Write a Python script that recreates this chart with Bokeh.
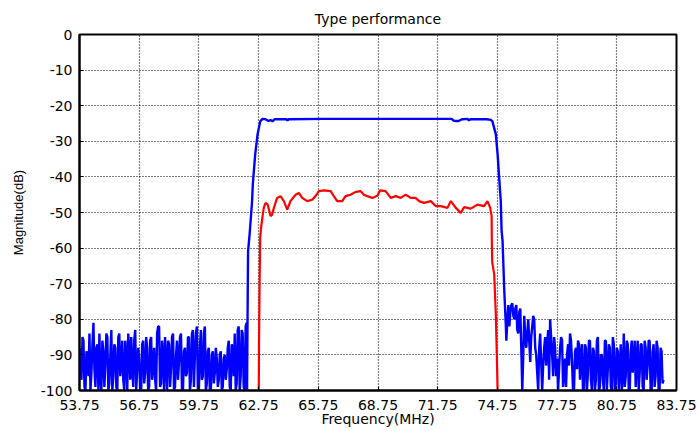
import numpy as np
from bokeh.plotting import figure
from bokeh.models import Range1d, FixedTicker
from bokeh.embed import file_html
from bokeh.resources import INLINE

# ---------------- data ----------------
x_ticks = [53.75, 56.75, 59.75, 62.75, 65.75, 68.75, 71.75, 74.75, 77.75, 80.75, 83.75]
x_tick_labels = ["53.75", "56.75", "59.75", "62.75", "65.75", "68.75", "71.75",
                 "74.75", "77.75", "80.75", "83.75"]
y_ticks = [0, -10, -20, -30, -40, -50, -60, -70, -80, -90, -100]
y_tick_labels = ["0", "-10", "-20", "-30", "-40", "-50", "-60", "-70", "-80", "-90", "-100"]

# blue trace: lower noise floor (sampled every 0.05 MHz from 53.75)
blue_noise_lo_start = 53.75
blue_noise_lo_db = [
    -88, -93, -97, -85, -86, -99, -100, -89, -90, -96,
    -84, -100, -95, -87, -81, -94, -99, -88, -87, -100,
    -84, -97, -100, -86, -89, -99, -93, -84, -85, -100,
    -98, -90, -83, -100, -96, -87, -88, -99, -100, -85,
    -84, -96, -92, -86, -97, -100, -86, -90, -100, -84,
    -89, -97, -85, -93, -99, -86, -83, -100, -94, -88,
    -91, -100, -100, -87, -86, -98, -95, -85, -88, -100,
    -99, -86, -85, -97, -93, -88, -97, -100, -84, -82,
    -82, -99, -98, -86, -90, -100, -85, -92, -100, -86,
    -87, -99, -94, -85, -84, -100, -99, -90, -86, -97,
    -92, -85, -84, -100, -100, -89, -88, -96, -95, -85,
    -85, -100, -97, -84, -83, -99, -90, -84, -82, -100,
    -100, -88, -83, -97, -96, -84, -82, -100, -98, -89,
    -88, -100, -100, -90, -89, -98, -95, -88, -91, -99,
    -97, -90, -89, -100, -99, -91, -90, -97, -94, -88,
    -86, -99, -100, -87, -88, -96, -84, -100, -98, -83,
    -82, -100, -96, -83, -84, -99, -100, -82, -81,
]
blue_edge_lo_f = [62.17, 62.19, 62.22, 62.30, 62.42, 62.46, 62.58, 62.70, 62.83, 62.95]
blue_edge_lo_db = [-100, -83, -61, -56, -47, -42, -33.6, -28, -24.4, -23.7]
blue_pass_f = [63.10, 63.25, 63.35, 63.45, 63.55, 64.15, 64.20, 64.25, 66.0, 68.0, 70.0,
               72.45, 72.55, 72.65, 72.80, 72.90, 73.00, 73.25, 73.32, 73.40, 74.20, 74.42]
blue_pass_db = [-23.8, -24.3, -24.0, -24.4, -23.8, -23.8, -24.2, -23.8, -23.7, -23.7, -23.7,
                -23.7, -24.2, -24.3, -24.3, -24.0, -23.8, -23.7, -24.1, -23.8, -23.8, -24.0]
blue_edge_hi_f = [74.50, 74.67, 74.76, 74.84, 74.92, 74.96, 75.01, 75.09, 75.17]
blue_edge_hi_db = [-24.4, -28, -33.6, -40.3, -46.8, -55, -58, -71.2, -81.3]
# blue trace: upper noise floor (sampled every 0.05 MHz from 75.2)
blue_noise_hi_start = 75.2
blue_noise_hi_db = [
    -86, -80, -76, -82, -78, -76, -75.5, -79, -80, -77,
    -76, -83, -84, -78, -77, -88, -100, -90, -79, -85,
    -88, -84, -80, -86, -92, -85, -82, -79, -80, -88,
    -90, -95, -100, -88, -84, -92, -100, -93, -88, -85,
    -93, -87, -83, -97, -80, -85, -90, -96, -85, -88,
    -96, -91, -100, -94, -88, -85, -86, -99, -95, -91,
    -99, -90, -87, -93, -84, -86, -92, -100, -100, -89,
    -88, -94, -86, -87, -97, -90, -87, -100, -100, -87,
    -88, -100, -95, -86, -86, -97, -100, -88, -89, -100,
    -97, -86, -85, -100, -99, -90, -90, -97, -100, -86,
    -86, -100, -94, -87, -88, -99, -100, -85, -87, -100,
    -98, -88, -89, -100, -93, -87, -100, -96, -84, -99,
    -96, -86, -87, -100, -100, -89, -86, -95, -91, -86,
    -99, -91, -86, -100, -95, -87, -87, -99, -100, -86,
    -88, -97, -93, -86, -86, -100, -100, -89, -87, -99,
    -96, -86, -88, -100, -100, -88, -89, -98, -97,
]

# red trace
red_f = [62.76, 62.77, 62.80, 62.83, 62.88, 62.95, 63.01, 63.10, 63.21, 63.35, 63.43,
         63.52, 63.68, 63.85, 64.02, 64.19, 64.35, 64.61, 64.77, 64.94, 65.19, 65.44,
         65.61, 65.78, 66.03, 66.37, 66.53, 66.70, 66.95, 67.12, 67.37, 67.63, 67.88,
         68.04, 68.21, 68.46, 68.72, 68.85, 69.13, 69.39, 69.64, 69.89, 70.14, 70.39,
         70.64, 70.81, 71.06, 71.40, 71.65, 71.90, 72.24, 72.41, 72.66, 72.91, 73.08,
         73.41, 73.75, 74.08, 74.25, 74.39, 74.46, 74.47, 74.49, 74.59, 74.67, 74.72,
         74.76]
red_db = [-100, -88, -70, -57, -54, -51, -48.7, -47.3, -47.8, -51.0, -50.6,
          -48.7, -45.9, -45.4, -46.8, -49.2, -46.8, -45.0, -44.5, -45.9, -46.8, -46.4,
          -45.4, -44.0, -43.8, -44.0, -45.4, -46.8, -46.8, -45.4, -45.0, -44.2, -44.0,
          -45.0, -45.4, -45.9, -45.3, -43.8, -44.0, -45.9, -45.4, -45.9, -45.0, -45.9,
          -45.9, -46.8, -47.3, -46.8, -48.2, -48.2, -48.7, -46.8, -48.7, -50.1, -48.5,
          -48.9, -47.8, -48.2, -46.8, -48.7, -51.0, -58.0, -64.0, -67.4, -78.6, -89.8,
          -100]

# ---------------- assemble ----------------
noise_lo_f = np.round(blue_noise_lo_start + 0.05 * np.arange(len(blue_noise_lo_db)), 3)
noise_hi_f = np.round(blue_noise_hi_start + 0.05 * np.arange(len(blue_noise_hi_db)), 3)
blue_f = np.concatenate([noise_lo_f, blue_edge_lo_f, blue_pass_f, blue_edge_hi_f, noise_hi_f])
blue_db = np.concatenate([blue_noise_lo_db, blue_edge_lo_db, blue_pass_db,
                          blue_edge_hi_db, blue_noise_hi_db])

FONT = "DejaVu Sans"

p = figure(width=699, height=431, output_backend="svg", toolbar_location=None,
           x_range=Range1d(53.75, 83.75), y_range=Range1d(-100, 0),
           title="Type performance",
           min_border_left=79, min_border_right=23, min_border_top=33, min_border_bottom=41)

p.background_fill_color = "white"
p.border_fill_color = "white"
p.outline_line_color = "black"
p.outline_line_width = 2

p.title.align = "center"
p.title.text_font = FONT
p.title.text_font_size = "14px"
p.title.text_font_style = "normal"
p.title.text_color = "black"
p.title.standoff = 16

p.line(blue_f, blue_db, line_color="#0000ff", line_width=2.4)
p.line(red_f, red_db, line_color="#ff0000", line_width=2.2)

p.xaxis.ticker = FixedTicker(ticks=x_ticks)
p.yaxis.ticker = FixedTicker(ticks=y_ticks)
p.xaxis.major_label_overrides = {t: s for t, s in zip(x_ticks, x_tick_labels)}
p.yaxis.major_label_overrides = {t: s for t, s in zip(y_ticks, y_tick_labels)}
p.xgrid.ticker = FixedTicker(ticks=x_ticks)
p.ygrid.ticker = FixedTicker(ticks=y_ticks)
for g in (p.xgrid, p.ygrid):
    g.grid_line_color = "black"
    g.grid_line_dash = "1 2"
    g.grid_line_width = 1.2
    g.grid_line_alpha = 1.0

p.xaxis.axis_label = "Frequency(MHz)"
p.yaxis.axis_label = "Magnitude(dB)"
for ax in (p.xaxis, p.yaxis):
    ax.axis_line_color = "black"
    ax.axis_line_width = 2
    ax.major_tick_in = 4
    ax.major_tick_out = 0
    ax.minor_tick_line_color = None
    ax.major_tick_line_color = "black"
    ax.major_label_text_font = FONT
    ax.major_label_text_font_size = "14px"
    ax.major_label_text_color = "black"
    ax.axis_label_text_font_style = "normal"
    ax.axis_label_text_color = "black"

p.xaxis.axis_label_text_font = FONT
p.xaxis.axis_label_text_font_size = "14px"
p.yaxis.axis_label_text_font = "Liberation Sans"
p.yaxis.axis_label_text_font_size = "13px"

p.xaxis.major_label_standoff = 9
p.xaxis.axis_label_standoff = -2
p.yaxis.major_label_standoff = 7
p.yaxis.axis_label_standoff = 12

open("out.html", "w").write(file_html(p, INLINE))
